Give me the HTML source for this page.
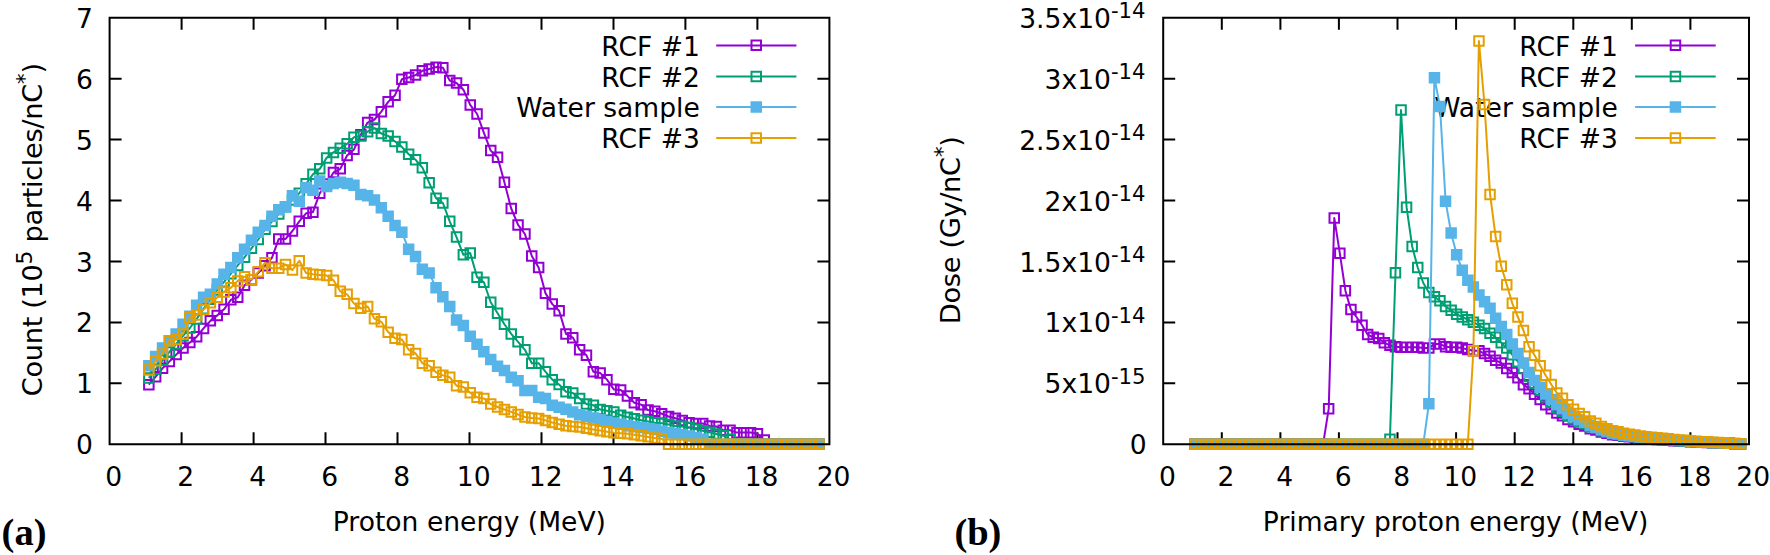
<!DOCTYPE html>
<html lang="en"><head><meta charset="utf-8"><title>Proton spectra</title>
<style>html,body{margin:0;padding:0;background:#fff}svg{display:block}text{font-family:'DejaVu Sans', 'Liberation Sans', sans-serif;fill:#000}.lbl{font-family:'Liberation Serif','DejaVu Serif',serif;font-weight:bold;font-size:38.5px;letter-spacing:0}</style>
</head><body>
<svg width="1770" height="555" viewBox="0 0 1770 555">
<rect width="1770" height="555" fill="#fff"/>
<g id="chart-a">
<path d="M181.6 444.2v-12M181.6 17.8v12M253.6 444.2v-12M253.6 17.8v12M325.5 444.2v-12M325.5 17.8v12M397.5 444.2v-12M397.5 17.8v12M469.5 444.2v-12M469.5 17.8v12M541.5 444.2v-12M541.5 17.8v12M613.5 444.2v-12M613.5 17.8v12M685.4 444.2v-12M685.4 17.8v12M757.4 444.2v-12M757.4 17.8v12M109.6 383.3h12M829.4 383.3h-12M109.6 322.4h12M829.4 322.4h-12M109.6 261.5h12M829.4 261.5h-12M109.6 200.5h12M829.4 200.5h-12M109.6 139.6h12M829.4 139.6h-12M109.6 78.7h12M829.4 78.7h-12" fill="none" stroke="#000" stroke-width="2"/>
<text transform="translate(699.8,55.6) scale(1.03,1)" text-anchor="end" font-size="25.8">RCF #1</text>
<line x1="716.2" y1="45.4" x2="796.4" y2="45.4" stroke="#9400d3" stroke-width="2.0"/>
<polyline points="148.8,384.7 155.7,376.7 162.5,368.3 169.3,361.6 176.2,354.6 183.0,348.0 189.9,342.5 196.7,336.7 203.5,328.4 210.4,320.9 217.2,315.4 224.0,309.3 230.9,299.8 237.7,297.4 244.6,285.2 251.4,279.7 258.2,273.0 265.1,265.7 271.9,257.8 278.8,238.9 285.6,238.9 292.4,231.0 299.3,221.3 306.1,213.3 312.9,212.1 319.8,193.2 326.6,184.1 333.5,172.5 340.3,168.9 347.1,155.5 354.0,149.4 360.8,134.8 367.6,122.6 374.5,119.5 381.3,111.6 388.2,101.9 395.0,95.2 401.8,79.3 408.7,77.5 415.5,75.1 422.4,70.8 429.2,69.0 436.0,67.1 442.9,67.7 449.7,80.5 456.5,83.0 463.4,89.7 470.2,104.9 477.1,114.0 483.9,132.9 490.7,150.6 497.6,157.3 504.4,182.3 511.2,208.5 518.1,224.9 524.9,234.0 531.8,256.0 538.6,267.5 545.4,293.1 552.3,304.1 559.1,310.8 566.0,333.9 572.8,337.6 579.6,349.8 586.5,355.3 593.3,371.7 600.1,372.9 607.0,379.6 613.8,389.4 620.7,390.0 627.5,396.1 634.3,402.8 641.2,404.6 648.0,410.1 654.8,411.3 661.7,413.7 668.5,416.5 675.4,418.3 682.2,420.4 689.0,422.9 695.9,423.5 702.7,423.5 709.6,425.9 716.4,426.5 723.2,430.2 730.1,430.2 736.9,432.6 743.7,432.6 750.6,432.6 757.4,433.8 764.3,439.9 771.1,444.2 777.9,444.2 784.8,444.2 791.6,444.2 798.4,444.2 805.3,444.2 812.1,444.2 819.0,444.2" fill="none" stroke="#9400d3" stroke-width="2.0" stroke-linejoin="round"/>
<path d="M751.5 40.6h9.5v9.5h-9.5zM144.1 379.9h9.5v9.5h-9.5zM150.9 372.0h9.5v9.5h-9.5zM157.8 363.6h9.5v9.5h-9.5zM164.6 356.8h9.5v9.5h-9.5zM171.4 349.8h9.5v9.5h-9.5zM178.3 343.2h9.5v9.5h-9.5zM185.1 337.8h9.5v9.5h-9.5zM191.9 332.0h9.5v9.5h-9.5zM198.8 323.7h9.5v9.5h-9.5zM205.6 316.1h9.5v9.5h-9.5zM212.5 310.7h9.5v9.5h-9.5zM219.3 304.6h9.5v9.5h-9.5zM226.1 295.1h9.5v9.5h-9.5zM233.0 292.6h9.5v9.5h-9.5zM239.8 280.5h9.5v9.5h-9.5zM246.7 275.0h9.5v9.5h-9.5zM253.5 268.3h9.5v9.5h-9.5zM260.3 261.0h9.5v9.5h-9.5zM267.2 253.1h9.5v9.5h-9.5zM274.0 234.2h9.5v9.5h-9.5zM280.8 234.2h9.5v9.5h-9.5zM287.7 226.2h9.5v9.5h-9.5zM294.5 216.5h9.5v9.5h-9.5zM301.4 208.6h9.5v9.5h-9.5zM308.2 207.4h9.5v9.5h-9.5zM315.0 188.5h9.5v9.5h-9.5zM321.9 179.3h9.5v9.5h-9.5zM328.7 167.8h9.5v9.5h-9.5zM335.5 164.1h9.5v9.5h-9.5zM342.4 150.7h9.5v9.5h-9.5zM349.2 144.6h9.5v9.5h-9.5zM356.1 130.0h9.5v9.5h-9.5zM362.9 117.8h9.5v9.5h-9.5zM369.7 114.8h9.5v9.5h-9.5zM376.6 106.9h9.5v9.5h-9.5zM383.4 97.1h9.5v9.5h-9.5zM390.3 90.4h9.5v9.5h-9.5zM397.1 74.6h9.5v9.5h-9.5zM403.9 72.7h9.5v9.5h-9.5zM410.8 70.3h9.5v9.5h-9.5zM417.6 66.0h9.5v9.5h-9.5zM424.4 64.2h9.5v9.5h-9.5zM431.3 62.4h9.5v9.5h-9.5zM438.1 63.0h9.5v9.5h-9.5zM445.0 75.8h9.5v9.5h-9.5zM451.8 78.2h9.5v9.5h-9.5zM458.6 84.9h9.5v9.5h-9.5zM465.5 100.2h9.5v9.5h-9.5zM472.3 109.3h9.5v9.5h-9.5zM479.1 128.2h9.5v9.5h-9.5zM486.0 145.8h9.5v9.5h-9.5zM492.8 152.5h9.5v9.5h-9.5zM499.7 177.5h9.5v9.5h-9.5zM506.5 203.7h9.5v9.5h-9.5zM513.3 220.2h9.5v9.5h-9.5zM520.2 229.3h9.5v9.5h-9.5zM527.0 251.2h9.5v9.5h-9.5zM533.9 262.8h9.5v9.5h-9.5zM540.7 288.4h9.5v9.5h-9.5zM547.5 299.3h9.5v9.5h-9.5zM554.4 306.0h9.5v9.5h-9.5zM561.2 329.2h9.5v9.5h-9.5zM568.0 332.9h9.5v9.5h-9.5zM574.9 345.0h9.5v9.5h-9.5zM581.7 350.5h9.5v9.5h-9.5zM588.6 367.0h9.5v9.5h-9.5zM595.4 368.2h9.5v9.5h-9.5zM602.2 374.9h9.5v9.5h-9.5zM609.1 384.6h9.5v9.5h-9.5zM615.9 385.2h9.5v9.5h-9.5zM622.7 391.3h9.5v9.5h-9.5zM629.6 398.0h9.5v9.5h-9.5zM636.4 399.9h9.5v9.5h-9.5zM643.3 405.3h9.5v9.5h-9.5zM650.1 406.6h9.5v9.5h-9.5zM656.9 409.0h9.5v9.5h-9.5zM663.8 411.7h9.5v9.5h-9.5zM670.6 413.6h9.5v9.5h-9.5zM677.5 415.7h9.5v9.5h-9.5zM684.3 418.1h9.5v9.5h-9.5zM691.1 418.7h9.5v9.5h-9.5zM698.0 418.7h9.5v9.5h-9.5zM704.8 421.2h9.5v9.5h-9.5zM711.6 421.8h9.5v9.5h-9.5zM718.5 425.4h9.5v9.5h-9.5zM725.3 425.4h9.5v9.5h-9.5zM732.2 427.9h9.5v9.5h-9.5zM739.0 427.9h9.5v9.5h-9.5zM745.8 427.9h9.5v9.5h-9.5zM752.7 429.1h9.5v9.5h-9.5zM759.5 435.2h9.5v9.5h-9.5zM766.3 439.4h9.5v9.5h-9.5zM773.2 439.4h9.5v9.5h-9.5zM780.0 439.4h9.5v9.5h-9.5zM786.9 439.4h9.5v9.5h-9.5zM793.7 439.4h9.5v9.5h-9.5zM800.5 439.4h9.5v9.5h-9.5zM807.4 439.4h9.5v9.5h-9.5zM814.2 439.4h9.5v9.5h-9.5z" fill="none" stroke="#9400d3" stroke-width="2.0"/>
<text transform="translate(699.8,86.6) scale(1.03,1)" text-anchor="end" font-size="25.8">RCF #2</text>
<line x1="716.2" y1="76.4" x2="796.4" y2="76.4" stroke="#009e73" stroke-width="2.0"/>
<polyline points="148.8,377.9 155.7,369.1 162.5,360.3 169.3,352.1 176.2,344.0 183.0,335.9 189.9,328.0 196.7,318.9 203.5,308.9 210.4,299.2 217.2,290.0 224.0,281.8 230.9,273.6 237.7,265.4 244.6,257.2 251.4,248.4 258.2,239.5 265.1,229.2 271.9,221.6 278.8,213.9 285.6,206.6 292.4,199.9 299.3,193.2 306.1,183.8 312.9,174.3 319.8,168.9 326.6,157.9 333.5,152.4 340.3,148.2 347.1,143.9 354.0,137.2 360.8,136.0 367.6,131.7 374.5,128.1 381.3,133.5 388.2,136.0 395.0,141.5 401.8,146.9 408.7,154.2 415.5,159.7 422.4,167.6 429.2,182.9 436.0,198.1 442.9,203.0 449.7,221.3 456.5,237.1 463.4,254.8 470.2,252.9 477.1,277.3 483.9,282.2 490.7,302.3 497.6,313.2 504.4,324.2 511.2,333.9 518.1,341.9 524.9,349.8 531.8,363.2 538.6,363.2 545.4,371.7 552.3,379.6 559.1,384.5 566.0,391.8 572.8,393.0 579.6,398.5 586.5,404.0 593.3,405.2 600.1,409.5 607.0,410.7 613.8,411.9 620.7,415.2 627.5,417.1 634.3,418.6 641.2,420.2 648.0,421.5 654.8,422.7 661.7,423.3 668.5,424.5 675.4,426.0 682.2,426.4 689.0,427.6 695.9,429.2 702.7,430.8 709.6,432.4 716.4,434.0 723.2,435.7 730.1,439.3 736.9,444.2 743.7,444.2 750.6,444.2 757.4,444.2 764.3,444.2 771.1,444.2 777.9,444.2 784.8,444.2 791.6,444.2 798.4,444.2 805.3,444.2 812.1,444.2 819.0,444.2" fill="none" stroke="#009e73" stroke-width="2.0" stroke-linejoin="round"/>
<path d="M751.5 71.7h9.5v9.5h-9.5zM144.1 373.2h9.5v9.5h-9.5zM150.9 364.4h9.5v9.5h-9.5zM157.8 355.6h9.5v9.5h-9.5zM164.6 347.3h9.5v9.5h-9.5zM171.4 339.2h9.5v9.5h-9.5zM178.3 331.2h9.5v9.5h-9.5zM185.1 323.2h9.5v9.5h-9.5zM191.9 314.2h9.5v9.5h-9.5zM198.8 304.1h9.5v9.5h-9.5zM205.6 294.5h9.5v9.5h-9.5zM212.5 285.2h9.5v9.5h-9.5zM219.3 277.0h9.5v9.5h-9.5zM226.1 268.9h9.5v9.5h-9.5zM233.0 260.7h9.5v9.5h-9.5zM239.8 252.4h9.5v9.5h-9.5zM246.7 243.6h9.5v9.5h-9.5zM253.5 234.8h9.5v9.5h-9.5zM260.3 224.4h9.5v9.5h-9.5zM267.2 216.8h9.5v9.5h-9.5zM274.0 209.2h9.5v9.5h-9.5zM280.8 201.9h9.5v9.5h-9.5zM287.7 195.2h9.5v9.5h-9.5zM294.5 188.5h9.5v9.5h-9.5zM301.4 179.0h9.5v9.5h-9.5zM308.2 169.6h9.5v9.5h-9.5zM315.0 164.1h9.5v9.5h-9.5zM321.9 153.2h9.5v9.5h-9.5zM328.7 147.7h9.5v9.5h-9.5zM335.5 143.4h9.5v9.5h-9.5zM342.4 139.1h9.5v9.5h-9.5zM349.2 132.4h9.5v9.5h-9.5zM356.1 131.2h9.5v9.5h-9.5zM362.9 127.0h9.5v9.5h-9.5zM369.7 123.3h9.5v9.5h-9.5zM376.6 128.8h9.5v9.5h-9.5zM383.4 131.2h9.5v9.5h-9.5zM390.3 136.7h9.5v9.5h-9.5zM397.1 142.2h9.5v9.5h-9.5zM403.9 149.5h9.5v9.5h-9.5zM410.8 155.0h9.5v9.5h-9.5zM417.6 162.9h9.5v9.5h-9.5zM424.4 178.1h9.5v9.5h-9.5zM431.3 193.4h9.5v9.5h-9.5zM438.1 198.2h9.5v9.5h-9.5zM445.0 216.5h9.5v9.5h-9.5zM451.8 232.3h9.5v9.5h-9.5zM458.6 250.0h9.5v9.5h-9.5zM465.5 248.2h9.5v9.5h-9.5zM472.3 272.5h9.5v9.5h-9.5zM479.1 277.4h9.5v9.5h-9.5zM486.0 297.5h9.5v9.5h-9.5zM492.8 308.5h9.5v9.5h-9.5zM499.7 319.4h9.5v9.5h-9.5zM506.5 329.2h9.5v9.5h-9.5zM513.3 337.1h9.5v9.5h-9.5zM520.2 345.0h9.5v9.5h-9.5zM527.0 358.4h9.5v9.5h-9.5zM533.9 358.4h9.5v9.5h-9.5zM540.7 367.0h9.5v9.5h-9.5zM547.5 374.9h9.5v9.5h-9.5zM554.4 379.8h9.5v9.5h-9.5zM561.2 387.1h9.5v9.5h-9.5zM568.0 388.3h9.5v9.5h-9.5zM574.9 393.8h9.5v9.5h-9.5zM581.7 399.2h9.5v9.5h-9.5zM588.6 400.5h9.5v9.5h-9.5zM595.4 404.7h9.5v9.5h-9.5zM602.2 405.9h9.5v9.5h-9.5zM609.1 407.2h9.5v9.5h-9.5zM615.9 410.4h9.5v9.5h-9.5zM622.7 412.4h9.5v9.5h-9.5zM629.6 413.9h9.5v9.5h-9.5zM636.4 415.4h9.5v9.5h-9.5zM643.3 416.7h9.5v9.5h-9.5zM650.1 417.9h9.5v9.5h-9.5zM656.9 418.6h9.5v9.5h-9.5zM663.8 419.8h9.5v9.5h-9.5zM670.6 421.2h9.5v9.5h-9.5zM677.5 421.6h9.5v9.5h-9.5zM684.3 422.8h9.5v9.5h-9.5zM691.1 424.4h9.5v9.5h-9.5zM698.0 426.0h9.5v9.5h-9.5zM704.8 427.6h9.5v9.5h-9.5zM711.6 429.3h9.5v9.5h-9.5zM718.5 430.9h9.5v9.5h-9.5zM725.3 434.6h9.5v9.5h-9.5zM732.2 439.4h9.5v9.5h-9.5zM739.0 439.4h9.5v9.5h-9.5zM745.8 439.4h9.5v9.5h-9.5zM752.7 439.4h9.5v9.5h-9.5zM759.5 439.4h9.5v9.5h-9.5zM766.3 439.4h9.5v9.5h-9.5zM773.2 439.4h9.5v9.5h-9.5zM780.0 439.4h9.5v9.5h-9.5zM786.9 439.4h9.5v9.5h-9.5zM793.7 439.4h9.5v9.5h-9.5zM800.5 439.4h9.5v9.5h-9.5zM807.4 439.4h9.5v9.5h-9.5zM814.2 439.4h9.5v9.5h-9.5z" fill="none" stroke="#009e73" stroke-width="2.0"/>
<text transform="translate(699.8,117.2) scale(1.03,1)" text-anchor="end" font-size="25.8">Water sample</text>
<line x1="716.2" y1="107.0" x2="796.4" y2="107.0" stroke="#56b4e9" stroke-width="2.0"/>
<polyline points="148.8,365.7 155.7,356.5 162.5,348.0 169.3,340.6 176.2,333.9 183.0,324.2 189.9,316.3 196.7,305.3 203.5,297.4 210.4,294.4 217.2,284.0 224.0,274.2 230.9,267.5 237.7,257.8 244.6,249.3 251.4,240.1 258.2,232.2 265.1,225.5 271.9,216.4 278.8,209.7 285.6,206.6 292.4,195.7 299.3,201.2 306.1,187.8 312.9,190.2 319.8,181.1 326.6,186.5 333.5,183.5 340.3,182.3 347.1,183.5 354.0,185.3 360.8,194.5 367.6,195.7 374.5,199.9 381.3,207.9 388.2,216.4 395.0,225.5 401.8,232.2 408.7,249.3 415.5,256.6 422.4,269.4 429.2,273.0 436.0,287.7 442.9,296.8 449.7,306.5 456.5,319.9 463.4,325.4 470.2,336.4 477.1,344.3 483.9,351.6 490.7,359.5 497.6,366.2 504.4,370.5 511.2,377.2 518.1,380.8 524.9,390.6 531.8,390.6 538.6,397.3 545.4,398.5 552.3,405.2 559.1,407.2 566.0,409.3 572.8,411.9 579.6,414.7 586.5,416.4 593.3,417.9 600.1,419.7 607.0,421.4 613.8,423.1 620.7,424.4 627.5,425.7 634.3,426.7 641.2,427.6 648.0,428.5 654.8,429.4 661.7,431.1 668.5,432.8 675.4,433.6 682.2,434.8 689.0,436.1 695.9,437.4 702.7,439.3 709.6,444.2 716.4,444.2 723.2,444.2 730.1,444.2 736.9,444.2 743.7,444.2 750.6,444.2 757.4,444.2 764.3,444.2 771.1,444.2 777.9,444.2 784.8,444.2 791.6,444.2 798.4,444.2 805.3,444.2 812.1,444.2 819.0,444.2" fill="none" stroke="#56b4e9" stroke-width="2.0" stroke-linejoin="round"/>
<path d="M750.5 101.2h11.5v11.5h-11.5zM143.1 360.0h11.5v11.5h-11.5zM149.9 350.7h11.5v11.5h-11.5zM156.8 342.2h11.5v11.5h-11.5zM163.6 334.9h11.5v11.5h-11.5zM170.4 328.2h11.5v11.5h-11.5zM177.3 318.4h11.5v11.5h-11.5zM184.1 310.5h11.5v11.5h-11.5zM190.9 299.6h11.5v11.5h-11.5zM197.8 291.6h11.5v11.5h-11.5zM204.6 288.6h11.5v11.5h-11.5zM211.5 278.2h11.5v11.5h-11.5zM218.3 268.5h11.5v11.5h-11.5zM225.1 261.8h11.5v11.5h-11.5zM232.0 252.1h11.5v11.5h-11.5zM238.8 243.5h11.5v11.5h-11.5zM245.7 234.4h11.5v11.5h-11.5zM252.5 226.5h11.5v11.5h-11.5zM259.3 219.8h11.5v11.5h-11.5zM266.2 210.6h11.5v11.5h-11.5zM273.0 203.9h11.5v11.5h-11.5zM279.8 200.9h11.5v11.5h-11.5zM286.7 189.9h11.5v11.5h-11.5zM293.5 195.4h11.5v11.5h-11.5zM300.4 182.0h11.5v11.5h-11.5zM307.2 184.4h11.5v11.5h-11.5zM314.0 175.3h11.5v11.5h-11.5zM320.9 180.8h11.5v11.5h-11.5zM327.7 177.7h11.5v11.5h-11.5zM334.5 176.5h11.5v11.5h-11.5zM341.4 177.7h11.5v11.5h-11.5zM348.2 179.6h11.5v11.5h-11.5zM355.1 188.7h11.5v11.5h-11.5zM361.9 189.9h11.5v11.5h-11.5zM368.7 194.2h11.5v11.5h-11.5zM375.6 202.1h11.5v11.5h-11.5zM382.4 210.6h11.5v11.5h-11.5zM389.3 219.8h11.5v11.5h-11.5zM396.1 226.5h11.5v11.5h-11.5zM402.9 243.5h11.5v11.5h-11.5zM409.8 250.8h11.5v11.5h-11.5zM416.6 263.6h11.5v11.5h-11.5zM423.4 267.3h11.5v11.5h-11.5zM430.3 281.9h11.5v11.5h-11.5zM437.1 291.0h11.5v11.5h-11.5zM444.0 300.8h11.5v11.5h-11.5zM450.8 314.2h11.5v11.5h-11.5zM457.6 319.7h11.5v11.5h-11.5zM464.5 330.6h11.5v11.5h-11.5zM471.3 338.6h11.5v11.5h-11.5zM478.1 345.9h11.5v11.5h-11.5zM485.0 353.8h11.5v11.5h-11.5zM491.8 360.5h11.5v11.5h-11.5zM498.7 364.7h11.5v11.5h-11.5zM505.5 371.4h11.5v11.5h-11.5zM512.3 375.1h11.5v11.5h-11.5zM519.2 384.8h11.5v11.5h-11.5zM526.0 384.8h11.5v11.5h-11.5zM532.9 391.5h11.5v11.5h-11.5zM539.7 392.8h11.5v11.5h-11.5zM546.5 399.5h11.5v11.5h-11.5zM553.4 401.5h11.5v11.5h-11.5zM560.2 403.5h11.5v11.5h-11.5zM567.0 406.2h11.5v11.5h-11.5zM573.9 408.9h11.5v11.5h-11.5zM580.7 410.6h11.5v11.5h-11.5zM587.6 412.2h11.5v11.5h-11.5zM594.4 413.9h11.5v11.5h-11.5zM601.2 415.7h11.5v11.5h-11.5zM608.1 417.3h11.5v11.5h-11.5zM614.9 418.6h11.5v11.5h-11.5zM621.7 419.9h11.5v11.5h-11.5zM628.6 420.9h11.5v11.5h-11.5zM635.4 421.8h11.5v11.5h-11.5zM642.3 422.8h11.5v11.5h-11.5zM649.1 423.7h11.5v11.5h-11.5zM655.9 425.4h11.5v11.5h-11.5zM662.8 427.0h11.5v11.5h-11.5zM669.6 427.8h11.5v11.5h-11.5zM676.5 429.0h11.5v11.5h-11.5zM683.3 430.3h11.5v11.5h-11.5zM690.1 431.7h11.5v11.5h-11.5zM697.0 433.6h11.5v11.5h-11.5zM703.8 438.4h11.5v11.5h-11.5zM710.6 438.4h11.5v11.5h-11.5zM717.5 438.4h11.5v11.5h-11.5zM724.3 438.4h11.5v11.5h-11.5zM731.2 438.4h11.5v11.5h-11.5zM738.0 438.4h11.5v11.5h-11.5zM744.8 438.4h11.5v11.5h-11.5zM751.7 438.4h11.5v11.5h-11.5zM758.5 438.4h11.5v11.5h-11.5zM765.3 438.4h11.5v11.5h-11.5zM772.2 438.4h11.5v11.5h-11.5zM779.0 438.4h11.5v11.5h-11.5zM785.9 438.4h11.5v11.5h-11.5zM792.7 438.4h11.5v11.5h-11.5zM799.5 438.4h11.5v11.5h-11.5zM806.4 438.4h11.5v11.5h-11.5zM813.2 438.4h11.5v11.5h-11.5z" fill="#56b4e9"/>
<text transform="translate(699.8,148.2) scale(1.03,1)" text-anchor="end" font-size="25.8">RCF #3</text>
<line x1="716.2" y1="138.0" x2="796.4" y2="138.0" stroke="#e69f00" stroke-width="2.0"/>
<polyline points="148.8,370.0 155.7,360.7 162.5,354.0 169.3,340.6 176.2,339.4 183.0,333.9 189.9,317.5 196.7,315.1 203.5,309.6 210.4,302.9 217.2,297.4 224.0,291.9 230.9,287.7 237.7,280.9 244.6,276.7 251.4,279.7 258.2,271.8 265.1,262.7 271.9,268.2 278.8,268.2 285.6,264.5 292.4,270.0 299.3,260.8 306.1,273.0 312.9,274.2 319.8,274.9 326.6,275.5 333.5,280.3 340.3,291.3 347.1,294.4 354.0,303.5 360.8,308.4 367.6,306.5 374.5,318.7 381.3,321.8 388.2,332.1 395.0,338.2 401.8,339.4 408.7,349.8 415.5,353.4 422.4,363.2 429.2,365.6 436.0,372.3 442.9,375.4 449.7,377.2 456.5,385.7 463.4,386.9 470.2,392.7 477.1,397.3 483.9,398.5 490.7,404.0 497.6,407.0 504.4,409.5 511.2,411.9 518.1,414.5 524.9,417.0 531.8,417.9 538.6,418.5 545.4,420.4 552.3,422.5 559.1,424.2 566.0,425.8 572.8,426.5 579.6,427.1 586.5,428.3 593.3,429.5 600.1,430.6 607.0,431.7 613.8,432.7 620.7,433.2 627.5,433.7 634.3,434.7 641.2,435.8 648.0,436.9 654.8,437.9 661.7,438.7 668.5,444.2 675.4,444.2 682.2,444.2 689.0,444.2 695.9,444.2 702.7,444.2 709.6,444.2 716.4,444.2 723.2,444.2 730.1,444.2 736.9,444.2 743.7,444.2 750.6,444.2 757.4,444.2 764.3,444.2 771.1,444.2 777.9,444.2 784.8,444.2 791.6,444.2 798.4,444.2 805.3,444.2 812.1,444.2 819.0,444.2" fill="none" stroke="#e69f00" stroke-width="2.0" stroke-linejoin="round"/>
<path d="M751.5 133.2h9.5v9.5h-9.5zM144.1 365.3h9.5v9.5h-9.5zM150.9 356.0h9.5v9.5h-9.5zM157.8 349.3h9.5v9.5h-9.5zM164.6 335.9h9.5v9.5h-9.5zM171.4 334.7h9.5v9.5h-9.5zM178.3 329.2h9.5v9.5h-9.5zM185.1 312.7h9.5v9.5h-9.5zM191.9 310.3h9.5v9.5h-9.5zM198.8 304.8h9.5v9.5h-9.5zM205.6 298.1h9.5v9.5h-9.5zM212.5 292.6h9.5v9.5h-9.5zM219.3 287.2h9.5v9.5h-9.5zM226.1 282.9h9.5v9.5h-9.5zM233.0 276.2h9.5v9.5h-9.5zM239.8 271.9h9.5v9.5h-9.5zM246.7 275.0h9.5v9.5h-9.5zM253.5 267.1h9.5v9.5h-9.5zM260.3 257.9h9.5v9.5h-9.5zM267.2 263.4h9.5v9.5h-9.5zM274.0 263.4h9.5v9.5h-9.5zM280.8 259.8h9.5v9.5h-9.5zM287.7 265.2h9.5v9.5h-9.5zM294.5 256.1h9.5v9.5h-9.5zM301.4 268.3h9.5v9.5h-9.5zM308.2 269.5h9.5v9.5h-9.5zM315.0 270.1h9.5v9.5h-9.5zM321.9 270.7h9.5v9.5h-9.5zM328.7 275.6h9.5v9.5h-9.5zM335.5 286.6h9.5v9.5h-9.5zM342.4 289.6h9.5v9.5h-9.5zM349.2 298.7h9.5v9.5h-9.5zM356.1 303.6h9.5v9.5h-9.5zM362.9 301.8h9.5v9.5h-9.5zM369.7 314.0h9.5v9.5h-9.5zM376.6 317.0h9.5v9.5h-9.5zM383.4 327.4h9.5v9.5h-9.5zM390.3 333.5h9.5v9.5h-9.5zM397.1 334.7h9.5v9.5h-9.5zM403.9 345.0h9.5v9.5h-9.5zM410.8 348.7h9.5v9.5h-9.5zM417.6 358.4h9.5v9.5h-9.5zM424.4 360.9h9.5v9.5h-9.5zM431.3 367.6h9.5v9.5h-9.5zM438.1 370.6h9.5v9.5h-9.5zM445.0 372.4h9.5v9.5h-9.5zM451.8 381.0h9.5v9.5h-9.5zM458.6 382.2h9.5v9.5h-9.5zM465.5 388.0h9.5v9.5h-9.5zM472.3 392.5h9.5v9.5h-9.5zM479.1 393.8h9.5v9.5h-9.5zM486.0 399.2h9.5v9.5h-9.5zM492.8 402.3h9.5v9.5h-9.5zM499.7 404.7h9.5v9.5h-9.5zM506.5 407.2h9.5v9.5h-9.5zM513.3 409.7h9.5v9.5h-9.5zM520.2 412.2h9.5v9.5h-9.5zM527.0 413.2h9.5v9.5h-9.5zM533.9 413.8h9.5v9.5h-9.5zM540.7 415.7h9.5v9.5h-9.5zM547.5 417.8h9.5v9.5h-9.5zM554.4 419.4h9.5v9.5h-9.5zM561.2 421.0h9.5v9.5h-9.5zM568.0 421.7h9.5v9.5h-9.5zM574.9 422.3h9.5v9.5h-9.5zM581.7 423.5h9.5v9.5h-9.5zM588.6 424.8h9.5v9.5h-9.5zM595.4 425.9h9.5v9.5h-9.5zM602.2 427.0h9.5v9.5h-9.5zM609.1 428.0h9.5v9.5h-9.5zM615.9 428.5h9.5v9.5h-9.5zM622.7 429.0h9.5v9.5h-9.5zM629.6 429.9h9.5v9.5h-9.5zM636.4 431.0h9.5v9.5h-9.5zM643.3 432.1h9.5v9.5h-9.5zM650.1 433.2h9.5v9.5h-9.5zM656.9 434.0h9.5v9.5h-9.5zM663.8 439.4h9.5v9.5h-9.5zM670.6 439.4h9.5v9.5h-9.5zM677.5 439.4h9.5v9.5h-9.5zM684.3 439.4h9.5v9.5h-9.5zM691.1 439.4h9.5v9.5h-9.5zM698.0 439.4h9.5v9.5h-9.5zM704.8 439.4h9.5v9.5h-9.5zM711.6 439.4h9.5v9.5h-9.5zM718.5 439.4h9.5v9.5h-9.5zM725.3 439.4h9.5v9.5h-9.5zM732.2 439.4h9.5v9.5h-9.5zM739.0 439.4h9.5v9.5h-9.5zM745.8 439.4h9.5v9.5h-9.5zM752.7 439.4h9.5v9.5h-9.5zM759.5 439.4h9.5v9.5h-9.5zM766.3 439.4h9.5v9.5h-9.5zM773.2 439.4h9.5v9.5h-9.5zM780.0 439.4h9.5v9.5h-9.5zM786.9 439.4h9.5v9.5h-9.5zM793.7 439.4h9.5v9.5h-9.5zM800.5 439.4h9.5v9.5h-9.5zM807.4 439.4h9.5v9.5h-9.5zM814.2 439.4h9.5v9.5h-9.5z" fill="none" stroke="#e69f00" stroke-width="2.0"/>
<path d="M109.6 17.8H829.4V444.2H109.6Z" fill="none" stroke="#000" stroke-width="2"/>
<text transform="translate(93.0,454.2) scale(1.03,1)" text-anchor="end" font-size="25.8">0</text>
<text transform="translate(93.0,393.3) scale(1.03,1)" text-anchor="end" font-size="25.8">1</text>
<text transform="translate(93.0,332.4) scale(1.03,1)" text-anchor="end" font-size="25.8">2</text>
<text transform="translate(93.0,271.5) scale(1.03,1)" text-anchor="end" font-size="25.8">3</text>
<text transform="translate(93.0,210.5) scale(1.03,1)" text-anchor="end" font-size="25.8">4</text>
<text transform="translate(93.0,149.6) scale(1.03,1)" text-anchor="end" font-size="25.8">5</text>
<text transform="translate(93.0,88.7) scale(1.03,1)" text-anchor="end" font-size="25.8">6</text>
<text transform="translate(93.0,27.8) scale(1.03,1)" text-anchor="end" font-size="25.8">7</text>
<text transform="translate(113.8,485.7) scale(1.03,1)" text-anchor="middle" font-size="25.8">0</text>
<text transform="translate(185.8,485.7) scale(1.03,1)" text-anchor="middle" font-size="25.8">2</text>
<text transform="translate(257.8,485.7) scale(1.03,1)" text-anchor="middle" font-size="25.8">4</text>
<text transform="translate(329.7,485.7) scale(1.03,1)" text-anchor="middle" font-size="25.8">6</text>
<text transform="translate(401.7,485.7) scale(1.03,1)" text-anchor="middle" font-size="25.8">8</text>
<text transform="translate(473.7,485.7) scale(1.03,1)" text-anchor="middle" font-size="25.8">10</text>
<text transform="translate(545.7,485.7) scale(1.03,1)" text-anchor="middle" font-size="25.8">12</text>
<text transform="translate(617.7,485.7) scale(1.03,1)" text-anchor="middle" font-size="25.8">14</text>
<text transform="translate(689.6,485.7) scale(1.03,1)" text-anchor="middle" font-size="25.8">16</text>
<text transform="translate(761.6,485.7) scale(1.03,1)" text-anchor="middle" font-size="25.8">18</text>
<text transform="translate(833.6,485.7) scale(1.03,1)" text-anchor="middle" font-size="25.8">20</text>
<text transform="translate(469.4,530.8) scale(1.03,1)" text-anchor="middle" font-size="25.8">Proton energy (MeV)</text>
<text transform="translate(41.6,229.8) rotate(-90)" text-anchor="middle" font-size="27.3" style="letter-spacing:-0.36px">Count (10<tspan dy="-10" font-size="21.8">5</tspan><tspan dy="10"> particles/nC</tspan><tspan dy="-10" font-size="21.8">*</tspan><tspan dy="10">)</tspan></text>
<text class="lbl" x="1.6" y="544.6">(a)</text>
</g>
<g id="chart-b">
<path d="M1221.8 444.2v-12M1221.8 17.8v12M1280.4 444.2v-12M1280.4 17.8v12M1338.9 444.2v-12M1338.9 17.8v12M1397.5 444.2v-12M1397.5 17.8v12M1456.1 444.2v-12M1456.1 17.8v12M1514.7 444.2v-12M1514.7 17.8v12M1573.3 444.2v-12M1573.3 17.8v12M1631.8 444.2v-12M1631.8 17.8v12M1690.4 444.2v-12M1690.4 17.8v12M1163.2 383.3h12M1749.0 383.3h-12M1163.2 322.4h12M1749.0 322.4h-12M1163.2 261.5h12M1749.0 261.5h-12M1163.2 200.5h12M1749.0 200.5h-12M1163.2 139.6h12M1749.0 139.6h-12M1163.2 78.7h12M1749.0 78.7h-12" fill="none" stroke="#000" stroke-width="2"/>
<text transform="translate(1617.8,55.6) scale(1.03,1)" text-anchor="end" font-size="25.8">RCF #1</text>
<line x1="1635.1" y1="45.4" x2="1715.7" y2="45.4" stroke="#9400d3" stroke-width="2.0"/>
<polyline points="1195.1,444.2 1200.7,444.2 1206.3,444.2 1211.8,444.2 1217.4,444.2 1223.0,444.2 1228.5,444.2 1234.1,444.2 1239.6,444.2 1245.2,444.2 1250.8,444.2 1256.3,444.2 1261.9,444.2 1267.5,444.2 1273.0,444.2 1278.6,444.2 1284.2,444.2 1289.7,444.2 1295.3,444.2 1300.9,444.2 1306.4,444.2 1312.0,444.2 1317.6,444.2 1323.1,444.2 1328.7,408.9 1334.3,218.1 1339.8,253.2 1345.4,290.7 1350.9,309.6 1356.5,317.0 1362.1,325.2 1367.6,334.6 1373.2,337.4 1378.8,338.6 1384.3,342.7 1389.9,345.4 1395.5,346.7 1401.0,347.3 1406.6,347.3 1412.2,347.3 1417.7,347.3 1423.3,348.1 1428.9,348.1 1434.4,344.1 1440.0,344.1 1445.6,346.7 1451.1,347.3 1456.7,347.3 1462.3,348.1 1467.8,349.5 1473.4,350.8 1478.9,350.8 1484.5,353.6 1490.1,356.2 1495.6,360.3 1501.2,362.9 1506.8,368.4 1512.3,372.4 1517.9,377.8 1523.5,384.6 1529.0,388.6 1534.6,394.1 1540.2,399.5 1545.7,404.8 1551.3,408.9 1556.9,413.0 1562.4,415.8 1568.0,419.4 1573.6,421.8 1579.1,424.2 1584.7,426.0 1590.2,428.7 1595.8,430.0 1601.4,432.0 1606.9,433.3 1612.5,434.7 1618.1,435.3 1623.6,436.3 1629.2,436.8 1634.8,437.3 1640.3,438.1 1645.9,438.7 1651.5,439.1 1657.0,439.4 1662.6,439.8 1668.2,440.2 1673.7,440.6 1679.3,441.0 1684.9,441.3 1690.4,441.7 1696.0,442.0 1701.6,442.3 1707.1,442.5 1712.7,442.7 1718.2,442.9 1723.8,443.1 1729.4,443.4 1734.9,443.7 1740.5,443.9" fill="none" stroke="#9400d3" stroke-width="2.0" stroke-linejoin="round"/>
<path d="M1670.7 40.6h9.5v9.5h-9.5zM1190.4 439.4h9.5v9.5h-9.5zM1195.9 439.4h9.5v9.5h-9.5zM1201.5 439.4h9.5v9.5h-9.5zM1207.1 439.4h9.5v9.5h-9.5zM1212.6 439.4h9.5v9.5h-9.5zM1218.2 439.4h9.5v9.5h-9.5zM1223.8 439.4h9.5v9.5h-9.5zM1229.3 439.4h9.5v9.5h-9.5zM1234.9 439.4h9.5v9.5h-9.5zM1240.5 439.4h9.5v9.5h-9.5zM1246.0 439.4h9.5v9.5h-9.5zM1251.6 439.4h9.5v9.5h-9.5zM1257.2 439.4h9.5v9.5h-9.5zM1262.7 439.4h9.5v9.5h-9.5zM1268.3 439.4h9.5v9.5h-9.5zM1273.9 439.4h9.5v9.5h-9.5zM1279.4 439.4h9.5v9.5h-9.5zM1285.0 439.4h9.5v9.5h-9.5zM1290.5 439.4h9.5v9.5h-9.5zM1296.1 439.4h9.5v9.5h-9.5zM1301.7 439.4h9.5v9.5h-9.5zM1307.2 439.4h9.5v9.5h-9.5zM1312.8 439.4h9.5v9.5h-9.5zM1318.4 439.4h9.5v9.5h-9.5zM1323.9 404.1h9.5v9.5h-9.5zM1329.5 213.3h9.5v9.5h-9.5zM1335.1 248.4h9.5v9.5h-9.5zM1340.6 285.9h9.5v9.5h-9.5zM1346.2 304.8h9.5v9.5h-9.5zM1351.8 312.3h9.5v9.5h-9.5zM1357.3 320.4h9.5v9.5h-9.5zM1362.9 329.8h9.5v9.5h-9.5zM1368.5 332.6h9.5v9.5h-9.5zM1374.0 333.8h9.5v9.5h-9.5zM1379.6 338.0h9.5v9.5h-9.5zM1385.2 340.6h9.5v9.5h-9.5zM1390.7 342.0h9.5v9.5h-9.5zM1396.3 342.6h9.5v9.5h-9.5zM1401.8 342.6h9.5v9.5h-9.5zM1407.4 342.6h9.5v9.5h-9.5zM1413.0 342.6h9.5v9.5h-9.5zM1418.5 343.3h9.5v9.5h-9.5zM1424.1 343.3h9.5v9.5h-9.5zM1429.7 339.3h9.5v9.5h-9.5zM1435.2 339.3h9.5v9.5h-9.5zM1440.8 342.0h9.5v9.5h-9.5zM1446.4 342.6h9.5v9.5h-9.5zM1451.9 342.6h9.5v9.5h-9.5zM1457.5 343.3h9.5v9.5h-9.5zM1463.1 344.8h9.5v9.5h-9.5zM1468.6 346.0h9.5v9.5h-9.5zM1474.2 346.0h9.5v9.5h-9.5zM1479.8 348.8h9.5v9.5h-9.5zM1485.3 351.5h9.5v9.5h-9.5zM1490.9 355.5h9.5v9.5h-9.5zM1496.5 358.2h9.5v9.5h-9.5zM1502.0 363.7h9.5v9.5h-9.5zM1507.6 367.7h9.5v9.5h-9.5zM1513.2 373.1h9.5v9.5h-9.5zM1518.7 379.9h9.5v9.5h-9.5zM1524.3 383.9h9.5v9.5h-9.5zM1529.8 389.4h9.5v9.5h-9.5zM1535.4 394.7h9.5v9.5h-9.5zM1541.0 400.1h9.5v9.5h-9.5zM1546.5 404.1h9.5v9.5h-9.5zM1552.1 408.3h9.5v9.5h-9.5zM1557.7 411.0h9.5v9.5h-9.5zM1563.2 414.7h9.5v9.5h-9.5zM1568.8 417.1h9.5v9.5h-9.5zM1574.4 419.5h9.5v9.5h-9.5zM1579.9 421.3h9.5v9.5h-9.5zM1585.5 423.9h9.5v9.5h-9.5zM1591.1 425.2h9.5v9.5h-9.5zM1596.6 427.3h9.5v9.5h-9.5zM1602.2 428.5h9.5v9.5h-9.5zM1607.8 429.9h9.5v9.5h-9.5zM1613.3 430.6h9.5v9.5h-9.5zM1618.9 431.5h9.5v9.5h-9.5zM1624.5 432.1h9.5v9.5h-9.5zM1630.0 432.6h9.5v9.5h-9.5zM1635.6 433.3h9.5v9.5h-9.5zM1641.1 434.0h9.5v9.5h-9.5zM1646.7 434.3h9.5v9.5h-9.5zM1652.3 434.7h9.5v9.5h-9.5zM1657.8 435.1h9.5v9.5h-9.5zM1663.4 435.4h9.5v9.5h-9.5zM1669.0 435.9h9.5v9.5h-9.5zM1674.5 436.3h9.5v9.5h-9.5zM1680.1 436.5h9.5v9.5h-9.5zM1685.7 437.0h9.5v9.5h-9.5zM1691.2 437.3h9.5v9.5h-9.5zM1696.8 437.5h9.5v9.5h-9.5zM1702.4 437.7h9.5v9.5h-9.5zM1707.9 438.0h9.5v9.5h-9.5zM1713.5 438.2h9.5v9.5h-9.5zM1719.1 438.4h9.5v9.5h-9.5zM1724.6 438.6h9.5v9.5h-9.5zM1730.2 438.9h9.5v9.5h-9.5zM1735.8 439.2h9.5v9.5h-9.5z" fill="none" stroke="#9400d3" stroke-width="2.0"/>
<text transform="translate(1617.8,86.6) scale(1.03,1)" text-anchor="end" font-size="25.8">RCF #2</text>
<line x1="1635.1" y1="76.4" x2="1715.7" y2="76.4" stroke="#009e73" stroke-width="2.0"/>
<polyline points="1195.1,444.2 1200.7,444.2 1206.3,444.2 1211.8,444.2 1217.4,444.2 1223.0,444.2 1228.5,444.2 1234.1,444.2 1239.6,444.2 1245.2,444.2 1250.8,444.2 1256.3,444.2 1261.9,444.2 1267.5,444.2 1273.0,444.2 1278.6,444.2 1284.2,444.2 1289.7,444.2 1295.3,444.2 1300.9,444.2 1306.4,444.2 1312.0,444.2 1317.6,444.2 1323.1,444.2 1328.7,444.2 1334.3,444.2 1339.8,444.2 1345.4,444.2 1350.9,444.2 1356.5,444.2 1362.1,444.2 1367.6,444.2 1373.2,444.2 1378.8,444.2 1384.3,444.2 1389.9,439.3 1395.5,272.7 1401.0,110.0 1406.6,207.4 1412.2,246.5 1417.7,267.5 1423.3,283.0 1428.9,292.5 1434.4,296.8 1440.0,300.7 1445.6,306.5 1451.1,310.3 1456.7,314.3 1462.3,317.0 1467.8,319.7 1473.4,322.4 1478.9,325.2 1484.5,328.6 1490.1,333.2 1495.6,337.4 1501.2,342.7 1506.8,348.1 1512.3,354.9 1517.9,361.6 1523.5,368.4 1529.0,376.5 1534.6,383.3 1540.2,390.0 1545.7,396.8 1551.3,402.2 1556.9,407.7 1562.4,411.4 1568.0,415.8 1573.6,418.7 1579.1,421.6 1584.7,423.8 1590.2,426.9 1595.8,428.4 1601.4,430.7 1606.9,432.2 1612.5,433.8 1618.1,434.6 1623.6,435.7 1629.2,436.3 1634.8,436.9 1640.3,437.7 1645.9,438.4 1651.5,438.7 1657.0,439.1 1662.6,439.5 1668.2,439.9 1673.7,440.4 1679.3,440.8 1684.9,441.1 1690.4,441.6 1696.0,441.9 1701.6,442.2 1707.1,442.3 1712.7,442.6 1718.2,442.8 1723.8,443.0 1729.4,443.3 1734.9,443.6 1740.5,443.9" fill="none" stroke="#009e73" stroke-width="2.0" stroke-linejoin="round"/>
<path d="M1670.7 71.7h9.5v9.5h-9.5zM1190.4 439.4h9.5v9.5h-9.5zM1195.9 439.4h9.5v9.5h-9.5zM1201.5 439.4h9.5v9.5h-9.5zM1207.1 439.4h9.5v9.5h-9.5zM1212.6 439.4h9.5v9.5h-9.5zM1218.2 439.4h9.5v9.5h-9.5zM1223.8 439.4h9.5v9.5h-9.5zM1229.3 439.4h9.5v9.5h-9.5zM1234.9 439.4h9.5v9.5h-9.5zM1240.5 439.4h9.5v9.5h-9.5zM1246.0 439.4h9.5v9.5h-9.5zM1251.6 439.4h9.5v9.5h-9.5zM1257.2 439.4h9.5v9.5h-9.5zM1262.7 439.4h9.5v9.5h-9.5zM1268.3 439.4h9.5v9.5h-9.5zM1273.9 439.4h9.5v9.5h-9.5zM1279.4 439.4h9.5v9.5h-9.5zM1285.0 439.4h9.5v9.5h-9.5zM1290.5 439.4h9.5v9.5h-9.5zM1296.1 439.4h9.5v9.5h-9.5zM1301.7 439.4h9.5v9.5h-9.5zM1307.2 439.4h9.5v9.5h-9.5zM1312.8 439.4h9.5v9.5h-9.5zM1318.4 439.4h9.5v9.5h-9.5zM1323.9 439.4h9.5v9.5h-9.5zM1329.5 439.4h9.5v9.5h-9.5zM1335.1 439.4h9.5v9.5h-9.5zM1340.6 439.4h9.5v9.5h-9.5zM1346.2 439.4h9.5v9.5h-9.5zM1351.8 439.4h9.5v9.5h-9.5zM1357.3 439.4h9.5v9.5h-9.5zM1362.9 439.4h9.5v9.5h-9.5zM1368.5 439.4h9.5v9.5h-9.5zM1374.0 439.4h9.5v9.5h-9.5zM1379.6 439.4h9.5v9.5h-9.5zM1385.2 434.6h9.5v9.5h-9.5zM1390.7 267.9h9.5v9.5h-9.5zM1396.3 105.3h9.5v9.5h-9.5zM1401.8 202.6h9.5v9.5h-9.5zM1407.4 241.7h9.5v9.5h-9.5zM1413.0 262.8h9.5v9.5h-9.5zM1418.5 278.3h9.5v9.5h-9.5zM1424.1 287.8h9.5v9.5h-9.5zM1429.7 292.0h9.5v9.5h-9.5zM1435.2 295.9h9.5v9.5h-9.5zM1440.8 301.8h9.5v9.5h-9.5zM1446.4 305.6h9.5v9.5h-9.5zM1451.9 309.6h9.5v9.5h-9.5zM1457.5 312.3h9.5v9.5h-9.5zM1463.1 314.9h9.5v9.5h-9.5zM1468.6 317.6h9.5v9.5h-9.5zM1474.2 320.4h9.5v9.5h-9.5zM1479.8 323.8h9.5v9.5h-9.5zM1485.3 328.5h9.5v9.5h-9.5zM1490.9 332.6h9.5v9.5h-9.5zM1496.5 338.0h9.5v9.5h-9.5zM1502.0 343.3h9.5v9.5h-9.5zM1507.6 350.1h9.5v9.5h-9.5zM1513.2 356.9h9.5v9.5h-9.5zM1518.7 363.7h9.5v9.5h-9.5zM1524.3 371.7h9.5v9.5h-9.5zM1529.8 378.5h9.5v9.5h-9.5zM1535.4 385.2h9.5v9.5h-9.5zM1541.0 392.1h9.5v9.5h-9.5zM1546.5 397.4h9.5v9.5h-9.5zM1552.1 402.9h9.5v9.5h-9.5zM1557.7 406.6h9.5v9.5h-9.5zM1563.2 411.0h9.5v9.5h-9.5zM1568.8 414.0h9.5v9.5h-9.5zM1574.4 416.9h9.5v9.5h-9.5zM1579.9 419.0h9.5v9.5h-9.5zM1585.5 422.1h9.5v9.5h-9.5zM1591.1 423.6h9.5v9.5h-9.5zM1596.6 426.0h9.5v9.5h-9.5zM1602.2 427.5h9.5v9.5h-9.5zM1607.8 429.1h9.5v9.5h-9.5zM1613.3 429.8h9.5v9.5h-9.5zM1618.9 430.9h9.5v9.5h-9.5zM1624.5 431.5h9.5v9.5h-9.5zM1630.0 432.1h9.5v9.5h-9.5zM1635.6 432.9h9.5v9.5h-9.5zM1641.1 433.6h9.5v9.5h-9.5zM1646.7 434.0h9.5v9.5h-9.5zM1652.3 434.4h9.5v9.5h-9.5zM1657.8 434.8h9.5v9.5h-9.5zM1663.4 435.2h9.5v9.5h-9.5zM1669.0 435.6h9.5v9.5h-9.5zM1674.5 436.0h9.5v9.5h-9.5zM1680.1 436.3h9.5v9.5h-9.5zM1685.7 436.8h9.5v9.5h-9.5zM1691.2 437.1h9.5v9.5h-9.5zM1696.8 437.4h9.5v9.5h-9.5zM1702.4 437.6h9.5v9.5h-9.5zM1707.9 437.9h9.5v9.5h-9.5zM1713.5 438.1h9.5v9.5h-9.5zM1719.1 438.3h9.5v9.5h-9.5zM1724.6 438.6h9.5v9.5h-9.5zM1730.2 438.9h9.5v9.5h-9.5zM1735.8 439.2h9.5v9.5h-9.5z" fill="none" stroke="#009e73" stroke-width="2.0"/>
<text transform="translate(1617.8,117.2) scale(1.03,1)" text-anchor="end" font-size="25.8">Water sample</text>
<line x1="1635.1" y1="107.0" x2="1715.7" y2="107.0" stroke="#56b4e9" stroke-width="2.0"/>
<polyline points="1195.1,444.2 1200.7,444.2 1206.3,444.2 1211.8,444.2 1217.4,444.2 1223.0,444.2 1228.5,444.2 1234.1,444.2 1239.6,444.2 1245.2,444.2 1250.8,444.2 1256.3,444.2 1261.9,444.2 1267.5,444.2 1273.0,444.2 1278.6,444.2 1284.2,444.2 1289.7,444.2 1295.3,444.2 1300.9,444.2 1306.4,444.2 1312.0,444.2 1317.6,444.2 1323.1,444.2 1328.7,444.2 1334.3,444.2 1339.8,444.2 1345.4,444.2 1350.9,444.2 1356.5,444.2 1362.1,444.2 1367.6,444.2 1373.2,444.2 1378.8,444.2 1384.3,444.2 1389.9,444.2 1395.5,444.2 1401.0,444.2 1406.6,444.2 1412.2,444.2 1417.7,444.2 1423.3,444.2 1428.9,403.8 1434.4,77.6 1440.0,106.5 1445.6,201.4 1451.1,232.9 1456.7,254.6 1462.3,270.4 1467.8,280.3 1473.4,287.0 1478.9,295.1 1484.5,301.7 1490.1,308.4 1495.6,318.4 1501.2,326.5 1506.8,334.6 1512.3,344.1 1517.9,353.6 1523.5,362.9 1529.0,372.4 1534.6,380.5 1540.2,387.3 1545.7,394.0 1551.3,399.5 1556.9,404.8 1562.4,408.7 1568.0,413.5 1573.6,416.7 1579.1,419.9 1584.7,422.2 1590.2,425.6 1595.8,427.2 1601.4,429.8 1606.9,431.4 1612.5,433.1 1618.1,434.0 1623.6,435.1 1629.2,435.8 1634.8,436.4 1640.3,437.3 1645.9,438.0 1651.5,438.4 1657.0,438.8 1662.6,439.2 1668.2,439.6 1673.7,440.2 1679.3,440.6 1684.9,440.9 1690.4,441.4 1696.0,441.7 1701.6,442.0 1707.1,442.2 1712.7,442.5 1718.2,442.8 1723.8,443.0 1729.4,443.3 1734.9,443.6 1740.5,443.9" fill="none" stroke="#56b4e9" stroke-width="2.0" stroke-linejoin="round"/>
<path d="M1669.7 101.2h11.5v11.5h-11.5zM1189.4 438.4h11.5v11.5h-11.5zM1194.9 438.4h11.5v11.5h-11.5zM1200.5 438.4h11.5v11.5h-11.5zM1206.1 438.4h11.5v11.5h-11.5zM1211.6 438.4h11.5v11.5h-11.5zM1217.2 438.4h11.5v11.5h-11.5zM1222.8 438.4h11.5v11.5h-11.5zM1228.3 438.4h11.5v11.5h-11.5zM1233.9 438.4h11.5v11.5h-11.5zM1239.5 438.4h11.5v11.5h-11.5zM1245.0 438.4h11.5v11.5h-11.5zM1250.6 438.4h11.5v11.5h-11.5zM1256.2 438.4h11.5v11.5h-11.5zM1261.7 438.4h11.5v11.5h-11.5zM1267.3 438.4h11.5v11.5h-11.5zM1272.9 438.4h11.5v11.5h-11.5zM1278.4 438.4h11.5v11.5h-11.5zM1284.0 438.4h11.5v11.5h-11.5zM1289.5 438.4h11.5v11.5h-11.5zM1295.1 438.4h11.5v11.5h-11.5zM1300.7 438.4h11.5v11.5h-11.5zM1306.2 438.4h11.5v11.5h-11.5zM1311.8 438.4h11.5v11.5h-11.5zM1317.4 438.4h11.5v11.5h-11.5zM1322.9 438.4h11.5v11.5h-11.5zM1328.5 438.4h11.5v11.5h-11.5zM1334.1 438.4h11.5v11.5h-11.5zM1339.6 438.4h11.5v11.5h-11.5zM1345.2 438.4h11.5v11.5h-11.5zM1350.8 438.4h11.5v11.5h-11.5zM1356.3 438.4h11.5v11.5h-11.5zM1361.9 438.4h11.5v11.5h-11.5zM1367.5 438.4h11.5v11.5h-11.5zM1373.0 438.4h11.5v11.5h-11.5zM1378.6 438.4h11.5v11.5h-11.5zM1384.2 438.4h11.5v11.5h-11.5zM1389.7 438.4h11.5v11.5h-11.5zM1395.3 438.4h11.5v11.5h-11.5zM1400.8 438.4h11.5v11.5h-11.5zM1406.4 438.4h11.5v11.5h-11.5zM1412.0 438.4h11.5v11.5h-11.5zM1417.5 438.4h11.5v11.5h-11.5zM1423.1 398.0h11.5v11.5h-11.5zM1428.7 71.9h11.5v11.5h-11.5zM1434.2 100.7h11.5v11.5h-11.5zM1439.8 195.6h11.5v11.5h-11.5zM1445.4 227.2h11.5v11.5h-11.5zM1450.9 248.9h11.5v11.5h-11.5zM1456.5 264.6h11.5v11.5h-11.5zM1462.1 274.6h11.5v11.5h-11.5zM1467.6 281.3h11.5v11.5h-11.5zM1473.2 289.3h11.5v11.5h-11.5zM1478.8 295.9h11.5v11.5h-11.5zM1484.3 302.6h11.5v11.5h-11.5zM1489.9 312.6h11.5v11.5h-11.5zM1495.5 320.8h11.5v11.5h-11.5zM1501.0 328.8h11.5v11.5h-11.5zM1506.6 338.3h11.5v11.5h-11.5zM1512.2 347.8h11.5v11.5h-11.5zM1517.7 357.2h11.5v11.5h-11.5zM1523.3 366.7h11.5v11.5h-11.5zM1528.8 374.7h11.5v11.5h-11.5zM1534.4 381.6h11.5v11.5h-11.5zM1540.0 388.3h11.5v11.5h-11.5zM1545.5 393.7h11.5v11.5h-11.5zM1551.1 399.1h11.5v11.5h-11.5zM1556.7 402.9h11.5v11.5h-11.5zM1562.2 407.7h11.5v11.5h-11.5zM1567.8 410.9h11.5v11.5h-11.5zM1573.4 414.1h11.5v11.5h-11.5zM1578.9 416.5h11.5v11.5h-11.5zM1584.5 419.8h11.5v11.5h-11.5zM1590.1 421.5h11.5v11.5h-11.5zM1595.6 424.0h11.5v11.5h-11.5zM1601.2 425.6h11.5v11.5h-11.5zM1606.8 427.4h11.5v11.5h-11.5zM1612.3 428.2h11.5v11.5h-11.5zM1617.9 429.4h11.5v11.5h-11.5zM1623.5 430.0h11.5v11.5h-11.5zM1629.0 430.7h11.5v11.5h-11.5zM1634.6 431.5h11.5v11.5h-11.5zM1640.1 432.2h11.5v11.5h-11.5zM1645.7 432.7h11.5v11.5h-11.5zM1651.3 433.1h11.5v11.5h-11.5zM1656.8 433.5h11.5v11.5h-11.5zM1662.4 433.9h11.5v11.5h-11.5zM1668.0 434.4h11.5v11.5h-11.5zM1673.5 434.8h11.5v11.5h-11.5zM1679.1 435.1h11.5v11.5h-11.5zM1684.7 435.7h11.5v11.5h-11.5zM1690.2 436.0h11.5v11.5h-11.5zM1695.8 436.3h11.5v11.5h-11.5zM1701.4 436.5h11.5v11.5h-11.5zM1706.9 436.8h11.5v11.5h-11.5zM1712.5 437.0h11.5v11.5h-11.5zM1718.1 437.2h11.5v11.5h-11.5zM1723.6 437.5h11.5v11.5h-11.5zM1729.2 437.8h11.5v11.5h-11.5zM1734.8 438.1h11.5v11.5h-11.5z" fill="#56b4e9"/>
<text transform="translate(1617.8,148.2) scale(1.03,1)" text-anchor="end" font-size="25.8">RCF #3</text>
<line x1="1635.1" y1="138.0" x2="1715.7" y2="138.0" stroke="#e69f00" stroke-width="2.0"/>
<polyline points="1195.1,444.2 1200.7,444.2 1206.3,444.2 1211.8,444.2 1217.4,444.2 1223.0,444.2 1228.5,444.2 1234.1,444.2 1239.6,444.2 1245.2,444.2 1250.8,444.2 1256.3,444.2 1261.9,444.2 1267.5,444.2 1273.0,444.2 1278.6,444.2 1284.2,444.2 1289.7,444.2 1295.3,444.2 1300.9,444.2 1306.4,444.2 1312.0,444.2 1317.6,444.2 1323.1,444.2 1328.7,444.2 1334.3,444.2 1339.8,444.2 1345.4,444.2 1350.9,444.2 1356.5,444.2 1362.1,444.2 1367.6,444.2 1373.2,444.2 1378.8,444.2 1384.3,444.2 1389.9,444.2 1395.5,444.2 1401.0,444.2 1406.6,444.2 1412.2,444.2 1417.7,444.2 1423.3,444.2 1428.9,444.2 1434.4,444.2 1440.0,444.2 1445.6,444.2 1451.1,444.2 1456.7,444.2 1462.3,444.2 1467.8,444.2 1473.4,350.8 1478.9,41.1 1484.5,104.5 1490.1,194.6 1495.6,236.5 1501.2,266.2 1506.8,284.8 1512.3,303.4 1517.9,317.0 1523.5,330.5 1529.0,346.7 1534.6,355.3 1540.2,365.6 1545.7,375.4 1551.3,384.5 1556.9,393.0 1562.4,398.4 1568.0,404.8 1573.6,409.2 1579.1,413.5 1584.7,416.7 1590.2,421.1 1595.8,423.2 1601.4,426.5 1606.9,428.6 1612.5,430.8 1618.1,431.9 1623.6,433.4 1629.2,434.2 1634.8,435.1 1640.3,436.0 1645.9,436.9 1651.5,437.4 1657.0,437.9 1662.6,438.4 1668.2,438.8 1673.7,439.4 1679.3,439.9 1684.9,440.3 1690.4,440.9 1696.0,441.3 1701.6,441.6 1707.1,441.9 1712.7,442.3 1718.2,442.5 1723.8,442.7 1729.4,443.1 1734.9,443.5 1740.5,443.8" fill="none" stroke="#e69f00" stroke-width="2.0" stroke-linejoin="round"/>
<path d="M1670.7 133.2h9.5v9.5h-9.5zM1190.4 439.4h9.5v9.5h-9.5zM1195.9 439.4h9.5v9.5h-9.5zM1201.5 439.4h9.5v9.5h-9.5zM1207.1 439.4h9.5v9.5h-9.5zM1212.6 439.4h9.5v9.5h-9.5zM1218.2 439.4h9.5v9.5h-9.5zM1223.8 439.4h9.5v9.5h-9.5zM1229.3 439.4h9.5v9.5h-9.5zM1234.9 439.4h9.5v9.5h-9.5zM1240.5 439.4h9.5v9.5h-9.5zM1246.0 439.4h9.5v9.5h-9.5zM1251.6 439.4h9.5v9.5h-9.5zM1257.2 439.4h9.5v9.5h-9.5zM1262.7 439.4h9.5v9.5h-9.5zM1268.3 439.4h9.5v9.5h-9.5zM1273.9 439.4h9.5v9.5h-9.5zM1279.4 439.4h9.5v9.5h-9.5zM1285.0 439.4h9.5v9.5h-9.5zM1290.5 439.4h9.5v9.5h-9.5zM1296.1 439.4h9.5v9.5h-9.5zM1301.7 439.4h9.5v9.5h-9.5zM1307.2 439.4h9.5v9.5h-9.5zM1312.8 439.4h9.5v9.5h-9.5zM1318.4 439.4h9.5v9.5h-9.5zM1323.9 439.4h9.5v9.5h-9.5zM1329.5 439.4h9.5v9.5h-9.5zM1335.1 439.4h9.5v9.5h-9.5zM1340.6 439.4h9.5v9.5h-9.5zM1346.2 439.4h9.5v9.5h-9.5zM1351.8 439.4h9.5v9.5h-9.5zM1357.3 439.4h9.5v9.5h-9.5zM1362.9 439.4h9.5v9.5h-9.5zM1368.5 439.4h9.5v9.5h-9.5zM1374.0 439.4h9.5v9.5h-9.5zM1379.6 439.4h9.5v9.5h-9.5zM1385.2 439.4h9.5v9.5h-9.5zM1390.7 439.4h9.5v9.5h-9.5zM1396.3 439.4h9.5v9.5h-9.5zM1401.8 439.4h9.5v9.5h-9.5zM1407.4 439.4h9.5v9.5h-9.5zM1413.0 439.4h9.5v9.5h-9.5zM1418.5 439.4h9.5v9.5h-9.5zM1424.1 439.4h9.5v9.5h-9.5zM1429.7 439.4h9.5v9.5h-9.5zM1435.2 439.4h9.5v9.5h-9.5zM1440.8 439.4h9.5v9.5h-9.5zM1446.4 439.4h9.5v9.5h-9.5zM1451.9 439.4h9.5v9.5h-9.5zM1457.5 439.4h9.5v9.5h-9.5zM1463.1 439.4h9.5v9.5h-9.5zM1468.6 346.0h9.5v9.5h-9.5zM1474.2 36.3h9.5v9.5h-9.5zM1479.8 99.8h9.5v9.5h-9.5zM1485.3 189.8h9.5v9.5h-9.5zM1490.9 231.7h9.5v9.5h-9.5zM1496.5 261.5h9.5v9.5h-9.5zM1502.0 280.1h9.5v9.5h-9.5zM1507.6 298.6h9.5v9.5h-9.5zM1513.2 312.3h9.5v9.5h-9.5zM1518.7 325.8h9.5v9.5h-9.5zM1524.3 342.0h9.5v9.5h-9.5zM1529.8 350.5h9.5v9.5h-9.5zM1535.4 360.9h9.5v9.5h-9.5zM1541.0 370.6h9.5v9.5h-9.5zM1546.5 379.8h9.5v9.5h-9.5zM1552.1 388.3h9.5v9.5h-9.5zM1557.7 393.6h9.5v9.5h-9.5zM1563.2 400.1h9.5v9.5h-9.5zM1568.8 404.5h9.5v9.5h-9.5zM1574.4 408.7h9.5v9.5h-9.5zM1579.9 411.9h9.5v9.5h-9.5zM1585.5 416.3h9.5v9.5h-9.5zM1591.1 418.5h9.5v9.5h-9.5zM1596.6 421.8h9.5v9.5h-9.5zM1602.2 423.9h9.5v9.5h-9.5zM1607.8 426.0h9.5v9.5h-9.5zM1613.3 427.1h9.5v9.5h-9.5zM1618.9 428.6h9.5v9.5h-9.5zM1624.5 429.5h9.5v9.5h-9.5zM1630.0 430.3h9.5v9.5h-9.5zM1635.6 431.3h9.5v9.5h-9.5zM1641.1 432.1h9.5v9.5h-9.5zM1646.7 432.6h9.5v9.5h-9.5zM1652.3 433.1h9.5v9.5h-9.5zM1657.8 433.6h9.5v9.5h-9.5zM1663.4 434.1h9.5v9.5h-9.5zM1669.0 434.7h9.5v9.5h-9.5zM1674.5 435.2h9.5v9.5h-9.5zM1680.1 435.6h9.5v9.5h-9.5zM1685.7 436.2h9.5v9.5h-9.5zM1691.2 436.5h9.5v9.5h-9.5zM1696.8 436.9h9.5v9.5h-9.5zM1702.4 437.1h9.5v9.5h-9.5zM1707.9 437.5h9.5v9.5h-9.5zM1713.5 437.7h9.5v9.5h-9.5zM1719.1 438.0h9.5v9.5h-9.5zM1724.6 438.4h9.5v9.5h-9.5zM1730.2 438.7h9.5v9.5h-9.5zM1735.8 439.1h9.5v9.5h-9.5z" fill="none" stroke="#e69f00" stroke-width="2.0"/>
<path d="M1163.2 17.8H1749.0V444.2H1163.2Z" fill="none" stroke="#000" stroke-width="2"/>
<text transform="translate(1146.6,454.2) scale(1.03,1)" text-anchor="end" font-size="25.8">0</text>
<text transform="translate(1145.6,393.3) scale(1.03,1)" text-anchor="end" font-size="25.8">5x10<tspan dy="-9.4" font-size="20.6">-15</tspan></text>
<text transform="translate(1145.6,332.4) scale(1.03,1)" text-anchor="end" font-size="25.8">1x10<tspan dy="-9.4" font-size="20.6">-14</tspan></text>
<text transform="translate(1145.6,271.5) scale(1.03,1)" text-anchor="end" font-size="25.8">1.5x10<tspan dy="-9.4" font-size="20.6">-14</tspan></text>
<text transform="translate(1145.6,210.5) scale(1.03,1)" text-anchor="end" font-size="25.8">2x10<tspan dy="-9.4" font-size="20.6">-14</tspan></text>
<text transform="translate(1145.6,149.6) scale(1.03,1)" text-anchor="end" font-size="25.8">2.5x10<tspan dy="-9.4" font-size="20.6">-14</tspan></text>
<text transform="translate(1145.6,88.7) scale(1.03,1)" text-anchor="end" font-size="25.8">3x10<tspan dy="-9.4" font-size="20.6">-14</tspan></text>
<text transform="translate(1145.6,27.8) scale(1.03,1)" text-anchor="end" font-size="25.8">3.5x10<tspan dy="-9.4" font-size="20.6">-14</tspan></text>
<text transform="translate(1167.4,485.7) scale(1.03,1)" text-anchor="middle" font-size="25.8">0</text>
<text transform="translate(1226.0,485.7) scale(1.03,1)" text-anchor="middle" font-size="25.8">2</text>
<text transform="translate(1284.6,485.7) scale(1.03,1)" text-anchor="middle" font-size="25.8">4</text>
<text transform="translate(1343.1,485.7) scale(1.03,1)" text-anchor="middle" font-size="25.8">6</text>
<text transform="translate(1401.7,485.7) scale(1.03,1)" text-anchor="middle" font-size="25.8">8</text>
<text transform="translate(1460.3,485.7) scale(1.03,1)" text-anchor="middle" font-size="25.8">10</text>
<text transform="translate(1518.9,485.7) scale(1.03,1)" text-anchor="middle" font-size="25.8">12</text>
<text transform="translate(1577.5,485.7) scale(1.03,1)" text-anchor="middle" font-size="25.8">14</text>
<text transform="translate(1636.0,485.7) scale(1.03,1)" text-anchor="middle" font-size="25.8">16</text>
<text transform="translate(1694.6,485.7) scale(1.03,1)" text-anchor="middle" font-size="25.8">18</text>
<text transform="translate(1753.2,485.7) scale(1.03,1)" text-anchor="middle" font-size="25.8">20</text>
<text transform="translate(1455.6,531.0) scale(1.03,1)" text-anchor="middle" font-size="25.8">Primary proton energy (MeV)</text>
<text transform="translate(959.8,230.3) rotate(-90)" text-anchor="middle" font-size="27.3" style="letter-spacing:-0.36px">Dose (Gy/nC<tspan dy="-10" font-size="21.8">*</tspan><tspan dy="10">)</tspan></text>
<text class="lbl" x="954.4" y="544.6">(b)</text>
</g>
</svg></body></html>
